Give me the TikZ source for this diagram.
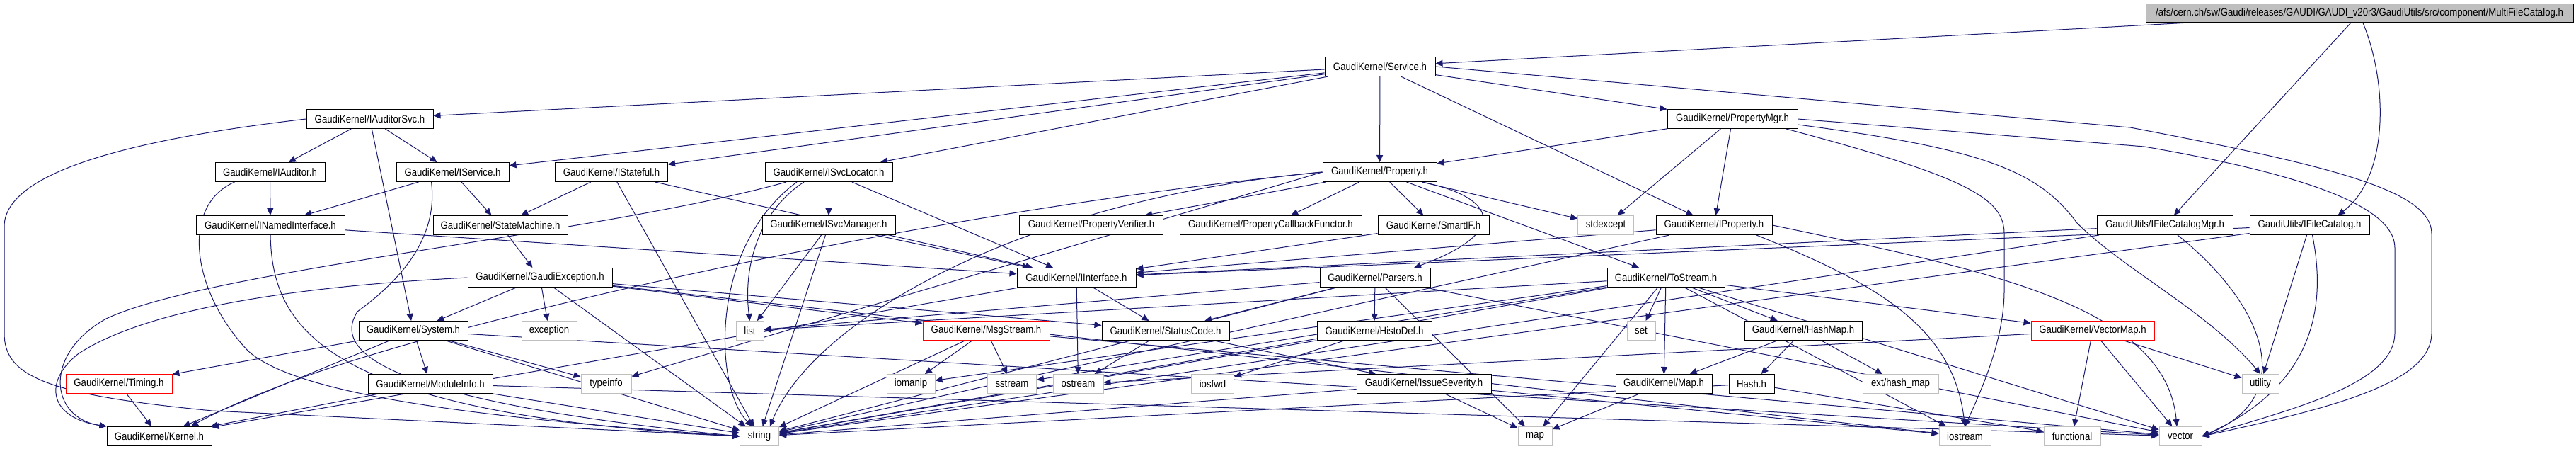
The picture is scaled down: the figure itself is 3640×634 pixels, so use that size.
\documentclass[tikz,border=0pt]{standalone}
\usepackage{fontspec}
\setmainfont{Liberation Sans}[FakeStretch=0.88]
\usetikzlibrary{arrows.meta}
\definecolor{edgec}{HTML}{191970}
\definecolor{grayb}{HTML}{BFBFBF}
\pgfdeclarelayer{bg}
\pgfsetlayers{bg,main}
\tikzset{
 box/.style={draw=black, line width=1pt, fill=white, minimum height=27pt, inner sep=0pt, font=\fontsize{15}{18}\selectfont, text=black},
 sysbox/.style={box, draw=grayb},
 redbox/.style={box, draw=red},
 lnk/.style={draw=edgec, line width=1pt, -{Triangle[length=10pt,width=9pt]}},
}
\begin{document}
\begin{tikzpicture}[x=1pt,y=-1pt]
\useasboundingbox (0,0) rectangle (3640,634);
% row 0
\node[box, fill=grayb, minimum width=604pt, minimum height=26pt] (root) at (3334,19) {/afs/cern.ch/sw/Gaudi/releases/GAUDI/GAUDI\_v20r3/GaudiUtils/src/component/MultiFileCatalog.h};
% row 1
\node[box, minimum width=156pt] (service) at (1950,94) {GaudiKernel/Service.h};
% row 2
\node[box, minimum width=179pt] (iauditorsvc) at (522.5,168) {GaudiKernel/IAuditorSvc.h};
\node[box, minimum width=184pt] (propertymgr) at (2448,168) {GaudiKernel/PropertyMgr.h};
% row 3
\node[box, minimum width=155pt] (iauditor) at (381.5,243) {GaudiKernel/IAuditor.h};
\node[box, minimum width=159pt] (iservice) at (639.5,243) {GaudiKernel/IService.h};
\node[box, minimum width=159pt] (istateful) at (864,243) {GaudiKernel/IStateful.h};
\node[box, minimum width=180pt] (isvclocator) at (1171,243) {GaudiKernel/ISvcLocator.h};
\node[box, minimum width=161pt] (property) at (1949.5,243) {GaudiKernel/Property.h};
% row 4
\node[box, minimum width=210pt] (inamed) at (382,318) {GaudiKernel/INamedInterface.h};
\node[box, minimum width=190pt] (statemachine) at (707,318) {GaudiKernel/StateMachine.h};
\node[box, minimum width=188pt] (isvcmanager) at (1171,318) {GaudiKernel/ISvcManager.h};
\node[box, minimum width=203pt] (pverifier) at (1542,318) {GaudiKernel/PropertyVerifier.h};
\node[box, minimum width=257pt] (pcf) at (1795.5,318) {GaudiKernel/PropertyCallbackFunctor.h};
\node[box, minimum width=157pt] (smartif) at (2025.5,318) {GaudiKernel/SmartIF.h};
\node[sysbox, minimum width=79pt] (stdexcept) at (2269,318) {stdexcept};
\node[box, minimum width=164pt] (iproperty) at (2422,318) {GaudiKernel/IProperty.h};
\node[box, minimum width=192pt] (ifcmgr) at (3059,318) {GaudiUtils/IFileCatalogMgr.h};
\node[box, minimum width=169pt] (ifc) at (3263.5,318) {GaudiUtils/IFileCatalog.h};
% row 5
\node[box, minimum width=204pt] (gaudiexc) at (763,392) {GaudiKernel/GaudiException.h};
\node[box, minimum width=168pt] (iinterface) at (1521,392) {GaudiKernel/IInterface.h};
\node[box, minimum width=156pt] (parsers) at (1943,392) {GaudiKernel/Parsers.h};
\node[box, minimum width=166pt] (tostream) at (2354,392) {GaudiKernel/ToStream.h};
% row 6
\node[box, minimum width=154pt] (system) at (584,467) {GaudiKernel/System.h};
\node[sysbox, minimum width=78pt] (exception) at (776,467) {exception};
\node[sysbox, minimum width=39pt] (list) at (1059.5,467) {list};
\node[redbox, minimum width=179pt] (msgstream) at (1393.5,467) {GaudiKernel/MsgStream.h};
\node[box, minimum width=180pt] (statuscode) at (1647,467) {GaudiKernel/StatusCode.h};
\node[box, minimum width=162pt] (histodef) at (1942,467) {GaudiKernel/HistoDef.h};
\node[sysbox, minimum width=40pt] (set) at (2319,467) {set};
\node[box, minimum width=166pt] (hashmap) at (2548,467) {GaudiKernel/HashMap.h};
\node[redbox, minimum width=174pt] (vectormap) at (2957,467) {GaudiKernel/VectorMap.h};
% row 7
\node[redbox, minimum width=150pt] (timing) at (168,542) {GaudiKernel/Timing.h};
\node[box, minimum width=176pt] (modinfo) at (608,542) {GaudiKernel/ModuleInfo.h};
\node[sysbox, minimum width=71pt] (typeinfo) at (856.5,542) {typeinfo};
\node[sysbox, minimum width=68pt] (iomanip) at (1287,542) {iomanip};
\node[sysbox, minimum width=69pt] (sstream) at (1430,542) {sstream};
\node[sysbox, minimum width=71pt] (ostream) at (1523.5,542) {ostream};
\node[sysbox, minimum width=60pt] (iosfwd) at (1713.5,542) {iosfwd};
\node[box, minimum width=190pt] (issuesev) at (2012,542) {GaudiKernel/IssueSeverity.h};
\node[box, minimum width=136pt] (maph) at (2351,542) {GaudiKernel/Map.h};
\node[box, minimum width=64pt] (hash) at (2475,542) {Hash.h};
\node[sysbox, minimum width=107pt] (exthash) at (2685.5,542) {ext/hash\_map};
\node[sysbox, minimum width=52pt] (utility) at (3194,542) {utility};
% row 8
\node[box, minimum width=148pt] (kernel) at (225,616) {GaudiKernel/Kernel.h};
\node[sysbox, minimum width=55pt] (string) at (1073,616) {string};
\node[sysbox, minimum width=48pt] (map) at (2169,616) {map};
\node[sysbox, minimum width=73pt] (iostream) at (2776.5,616) {iostream};
\node[sysbox, minimum width=80pt] (functional) at (2928,616) {functional};
\node[sysbox, minimum width=60pt] (vector) at (3081,616) {vector};

\begin{pgfonlayer}{bg}
% root
\draw[lnk] (root) -- (service);
\draw[lnk] (root) -- (ifcmgr);
\draw[lnk] ([xshift=5]root.south) .. controls (3375,120) and (3375,250) .. ([xshift=40]ifc.north);
% service
\draw[lnk] (service) -- (iauditorsvc);
\draw[lnk] (service) -- (iservice);
\draw[lnk] (service) -- (istateful);
\draw[lnk] (service) -- (isvclocator);
\draw[lnk] (service) -- (property);
\draw[lnk] (service) -- (propertymgr);
\draw[lnk] (service) -- (iproperty);
\draw[lnk] (service.east) -- (3010,180) .. controls (3300,235) and (3436,270) .. (3436,330) -- (3436,470) .. controls (3436,540) and (3300,575) .. (vector.east);
% iauditorsvc
\draw[lnk] (iauditorsvc) -- (iauditor);
\draw[lnk] (iauditorsvc) -- (iservice);
\draw[lnk] (iauditorsvc) -- (system);
\draw[lnk] (iauditorsvc.west) .. controls (200,195) and (6,240) .. (6,320) -- (6,470) .. controls (6,530) and (60,557) .. (300,580) -- (string.west);
% iauditor
\draw[lnk] (iauditor) -- (inamed);
\draw[lnk] ([xshift=-50]iauditor.south) .. controls (255,290) and (270,410) .. (350,495) .. controls (420,560) and (700,592) .. (string.west);
% iservice
\draw[lnk] (iservice) -- (inamed);
\draw[lnk] (iservice) -- (statemachine);
\draw[lnk] ([xshift=-30]iservice.south) .. controls (620,340) and (560,400) .. (505,440) .. controls (480,480) and (480,560) .. (string.west);
% istateful
\draw[lnk] (istateful) -- (statemachine);
\draw[lnk] (istateful) -- (iinterface);
\draw[lnk] (istateful) -- (string);
% isvclocator
\draw[lnk] (isvclocator) -- (isvcmanager);
\draw[lnk] (isvclocator) -- (iinterface);
\draw[lnk] ([xshift=-35]isvclocator.south) .. controls (1070,300) and (1050,380) .. (list.north);
\draw[lnk] ([xshift=-45]isvclocator.south) .. controls (1000,350) and (1010,550) .. ([xshift=-10]string.north);
\draw[lnk] ([xshift=-60]isvclocator.south) .. controls (850,330) and (300,380) .. (150,450) .. controls (60,500) and (70,590) .. (kernel.north west);
% propertymgr
\draw[lnk] (propertymgr) -- (property);
\draw[lnk] (propertymgr) -- (iproperty);
\draw[lnk] (propertymgr) -- (stdexcept);
\draw[lnk] ([xshift=76]propertymgr.south) .. controls (2780,250) and (2832,280) .. (2832,330) -- (2832,410) .. controls (2832,480) and (2800,550) .. (iostream.north);
\draw[lnk] ([yshift=-8]propertymgr.east) .. controls (2800,210) and (2880,240) .. (2935,315) .. controls (3000,380) and (3120,440) .. (utility.north);
\draw[lnk] (propertymgr.east) -- (3030,207) .. controls (3250,245) and (3384,290) .. (3384,350) -- (3384,470) .. controls (3384,540) and (3250,575) .. (vector.east);
% property
\draw[lnk] (property) -- (pverifier);
\draw[lnk] (property) -- (pcf);
\draw[lnk] (property) -- (smartif);
\draw[lnk] (property) -- (stdexcept);
\draw[lnk] (property) -- (tostream);
\draw[lnk] ([xshift=60]property.south) .. controls (2120,280) and (2130,330) .. ([xshift=55]parsers.north);
\draw[lnk] (property.west) .. controls (1450,280) and (1150,450) .. ([xshift=15]string.north);
\draw[lnk] (property.west) -- (typeinfo);
\draw[lnk] (property.west) .. controls (1300,300) and (700,440) .. (450,525) .. controls (350,560) and (300,585) .. ([xshift=45]kernel.north);
% inamed
\draw[lnk] (inamed) -- (iinterface);
\draw[lnk] (inamed.south) .. controls (385,460) and (450,585) .. (string.west);
% statemachine
\draw[lnk] (statemachine) -- (gaudiexc);
% isvcmanager
\draw[lnk] (isvcmanager) -- (iinterface);
\draw[lnk] (isvcmanager) -- (string);
\draw[lnk] (isvcmanager) -- (list);
% smartif
\draw[lnk] (smartif) -- (iinterface);
% iproperty
\draw[lnk] (iproperty) -- (iinterface);
\draw[lnk] (iproperty) -- (string);
\draw[lnk] ([xshift=60]iproperty.south) .. controls (2650,400) and (2760,460) .. (iostream.north);
\draw[lnk] (iproperty.east) .. controls (2800,380) and (3060,430) .. ([xshift=-5]vector.north);
% ifcmgr
\draw[lnk] (ifcmgr) -- (iinterface);
\draw[lnk] (ifcmgr) -- (string);
\draw[lnk] ([xshift=18]ifcmgr.south) .. controls (3200,430) and (3250,560) .. (vector.east);
% ifc
\draw[lnk] (ifc) -- (iinterface);
\draw[lnk] (ifc) -- (string);
\draw[lnk] ([xshift=-4]ifc.south) -- (utility);
\draw[lnk] ([xshift=4]ifc.south) .. controls (3285,420) and (3280,540) .. (vector.east);
% gaudiexc
\draw[lnk] (gaudiexc) -- (system);
\draw[lnk] (gaudiexc) -- (exception);
\draw[lnk] (gaudiexc) -- (string);
\draw[lnk] (gaudiexc) -- (statuscode);
\draw[lnk] (gaudiexc) -- (msgstream);
\draw[lnk] (gaudiexc) -- (iostream);
\draw[lnk] (gaudiexc.west) .. controls (400,405) and (200,440) .. (110,500) .. controls (60,540) and (70,590) .. (kernel.north west);
% iinterface
\draw[lnk] (iinterface) -- (kernel);
\draw[lnk] (iinterface) -- (statuscode);
\draw[lnk] (iinterface) -- (ostream);
% parsers
\draw[lnk] (parsers) -- (histodef);
\draw[lnk] (parsers) -- (statuscode);
\draw[lnk] (parsers) -- (map);
\draw[lnk] (parsers) -- (string);
\draw[lnk] (parsers) -- (vector);
\draw[lnk] (parsers) -- (list);
% tostream
\draw[lnk] (tostream) -- (set);
\draw[lnk] (tostream) -- (map);
\draw[lnk] (tostream) -- (maph);
\draw[lnk] (tostream) -- (hashmap);
\draw[lnk] (tostream) -- (vectormap);
\draw[lnk] (tostream) -- (vector);
\draw[lnk] (tostream) -- (iostream);
\draw[lnk] (tostream) -- (string);
\draw[lnk] (tostream) -- (list);
\draw[lnk] (tostream) -- (sstream);
\draw[lnk] (tostream) -- (iomanip);
% system
\draw[lnk] (system) -- (timing);
\draw[lnk] (system) -- (kernel);
\draw[lnk] (system) -- (modinfo);
\draw[lnk] (system) -- (string);
\draw[lnk] (system) -- (typeinfo);
\draw[lnk] (system) -- (vector);
% timing, modinfo
\draw[lnk] (timing) -- (kernel);
\draw[lnk] (modinfo) -- (kernel);
\draw[lnk] (modinfo) -- (string);
\draw[lnk] (modinfo) -- (vector);
% msgstream
\draw[lnk] (msgstream) -- (iomanip);
\draw[lnk] (msgstream) -- (sstream);
\draw[lnk] (msgstream) -- (string);
\draw[lnk] (msgstream) -- (vector);
% statuscode
\draw[lnk] (statuscode) -- (issuesev);
\draw[lnk] (statuscode) -- (ostream);
% histodef
\draw[lnk] (histodef) -- (iosfwd);
\draw[lnk] (histodef) -- (string);
% issuesev
\draw[lnk] (issuesev) -- (map);
\draw[lnk] (issuesev) -- (string);
\draw[lnk] (issuesev) -- (iostream);
% hashmap
\draw[lnk] (hashmap) -- (hash);
\draw[lnk] (hashmap) -- (exthash);
\draw[lnk] (hashmap) -- (maph);
% maph, hash
\draw[lnk] (maph) -- (map);
\draw[lnk] (hash) -- (string);
\draw[lnk] (hash) -- (functional);
% vectormap
\draw[lnk] (vectormap) -- (functional);
\draw[lnk] (vectormap) -- (utility);
\draw[lnk] (vectormap) -- (vector);
\draw[lnk] (vectormap) -- (ostream);
\end{pgfonlayer}
\end{tikzpicture}
\end{document}
